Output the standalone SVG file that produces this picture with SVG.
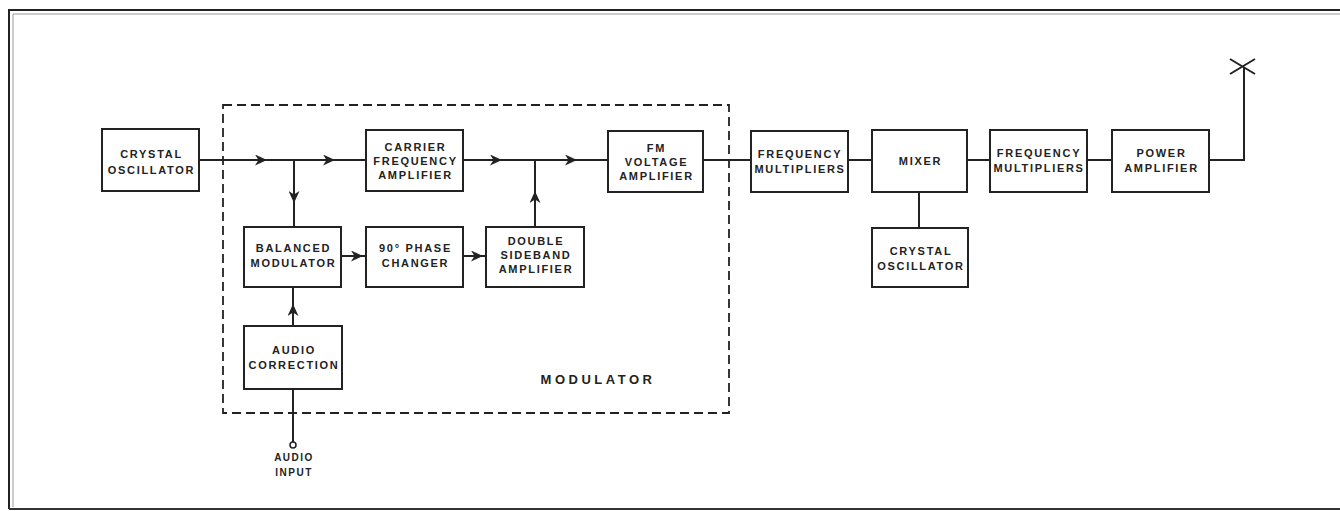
<svg xmlns="http://www.w3.org/2000/svg" width="1340" height="511" viewBox="0 0 1340 511">
<style>
.box{fill:none;stroke:#222;stroke-width:2}
.t{font-family:"Liberation Sans",Arial,sans-serif;font-weight:bold;font-size:11px;letter-spacing:1.7px;fill:#222;text-anchor:middle}
.w{fill:none;stroke:#222;stroke-width:2}
.a{fill:none;stroke:#222;stroke-width:2;marker-end:url(#arr)}
</style>
<defs>
<marker id="arr" markerUnits="userSpaceOnUse" markerWidth="13" markerHeight="11" refX="11" refY="5.5" orient="auto">
<path d="M0,0 L12,5.5 L0,11 L3.5,5.5 z" fill="#222"/>
</marker>
</defs>
<rect width="1340" height="511" fill="#fff"/>
<g id="frame">
<path d="M9,509 L9,10 L1340,10" fill="none" stroke="#222" stroke-width="2"/>
<path d="M13,507 L13,14 L1340,14" fill="none" stroke="#999" stroke-width="1"/>
<path d="M9,509 L1340,509" fill="none" stroke="#333" stroke-width="2"/>
</g>
<g id="modulator-group">
<rect x="223" y="105" width="506" height="308" fill="none" stroke="#222" stroke-width="1.8" stroke-dasharray="9 5"/>
<text class="t" x="598" y="384" style="font-size:13px;letter-spacing:3.5px">MODULATOR</text>
</g>
<g id="connectors">
<path class="a" d="M199,160 L266,160"/>
<path class="a" d="M266,160 L334,160"/>
<path class="w" d="M334,160 L366,160"/>
<path class="a" d="M294,160 L294,202"/>
<path class="w" d="M294,202 L294,227"/>
<path class="a" d="M463,160 L501,160"/>
<path class="a" d="M501,160 L576,160"/>
<path class="w" d="M576,160 L608,160"/>
<path class="a" d="M535,227 L535,192"/>
<path class="w" d="M535,192 L535,160"/>
<path class="a" d="M341,256 L362,256"/>
<path class="w" d="M362,256 L366,256"/>
<path class="a" d="M463,256 L482,256"/>
<path class="w" d="M482,256 L486,256"/>
<path class="a" d="M293,326 L293,305"/>
<path class="w" d="M293,305 L293,287"/>
<path class="w" d="M293,389 L293,442"/>
<circle cx="293" cy="445" r="3" fill="#fff" stroke="#222" stroke-width="1.5"/>
<path class="w" d="M703,160 L751,160"/>
<path class="w" d="M848,160 L872,160"/>
<path class="w" d="M967,160 L990,160"/>
<path class="w" d="M1087,160 L1112,160"/>
<path class="w" d="M919,192 L919,228"/>
<path class="w" d="M1209,160 L1244,160 L1244,67"/>
<path class="w" d="M1230,59 L1255,74 M1230,74 L1255,59"/>
</g>
<g id="crystal-oscillator-1">
<rect class="box" x="102" y="129" width="97" height="62"/>
<text class="t" x="151.5" y="157.5">CRYSTAL</text>
<text class="t" x="151.5" y="173.5">OSCILLATOR</text>
</g>
<g id="carrier-frequency-amplifier">
<rect class="box" x="366" y="130" width="97" height="61"/>
<text class="t" x="415.5" y="151">CARRIER</text>
<text class="t" x="415.5" y="165">FREQUENCY</text>
<text class="t" x="415.5" y="179">AMPLIFIER</text>
</g>
<g id="balanced-modulator">
<rect class="box" x="244" y="227" width="97" height="60"/>
<text class="t" x="293.5" y="252">BALANCED</text>
<text class="t" x="293.5" y="267">MODULATOR</text>
</g>
<g id="phase-changer">
<rect class="box" x="366" y="227" width="97" height="60"/>
<text class="t" x="415.5" y="252">90° PHASE</text>
<text class="t" x="415.5" y="267">CHANGER</text>
</g>
<g id="double-sideband-amplifier">
<rect class="box" x="486" y="227" width="98" height="60"/>
<text class="t" x="536" y="245">DOUBLE</text>
<text class="t" x="536" y="259">SIDEBAND</text>
<text class="t" x="536" y="273">AMPLIFIER</text>
</g>
<g id="audio-correction">
<rect class="box" x="244" y="326" width="98" height="63"/>
<text class="t" x="294" y="354">AUDIO</text>
<text class="t" x="294" y="369">CORRECTION</text>
</g>
<g id="audio-input">
<text class="t" x="294" y="461" style="font-size:10px;letter-spacing:1.5px">AUDIO</text>
<text class="t" x="294" y="476" style="font-size:10px;letter-spacing:1.5px">INPUT</text>
</g>
<g id="fm-voltage-amplifier">
<rect class="box" x="608" y="131" width="95" height="61"/>
<text class="t" x="656.5" y="152">FM</text>
<text class="t" x="656.5" y="166">VOLTAGE</text>
<text class="t" x="656.5" y="180">AMPLIFIER</text>
</g>
<g id="frequency-multipliers-1">
<rect class="box" x="751" y="131" width="97" height="61"/>
<text class="t" x="800" y="158">FREQUENCY</text>
<text class="t" x="800" y="173">MULTIPLIERS</text>
</g>
<g id="mixer">
<rect class="box" x="872" y="130" width="95" height="62"/>
<text class="t" x="920.5" y="165">MIXER</text>
</g>
<g id="crystal-oscillator-2">
<rect class="box" x="872" y="228" width="96" height="59"/>
<text class="t" x="921" y="255">CRYSTAL</text>
<text class="t" x="921" y="270">OSCILLATOR</text>
</g>
<g id="frequency-multipliers-2">
<rect class="box" x="990" y="130" width="97" height="62"/>
<text class="t" x="1039" y="157">FREQUENCY</text>
<text class="t" x="1039" y="172">MULTIPLIERS</text>
</g>
<g id="power-amplifier">
<rect class="box" x="1112" y="130" width="97" height="62"/>
<text class="t" x="1161.5" y="157">POWER</text>
<text class="t" x="1161.5" y="172">AMPLIFIER</text>
</g>
</svg>
